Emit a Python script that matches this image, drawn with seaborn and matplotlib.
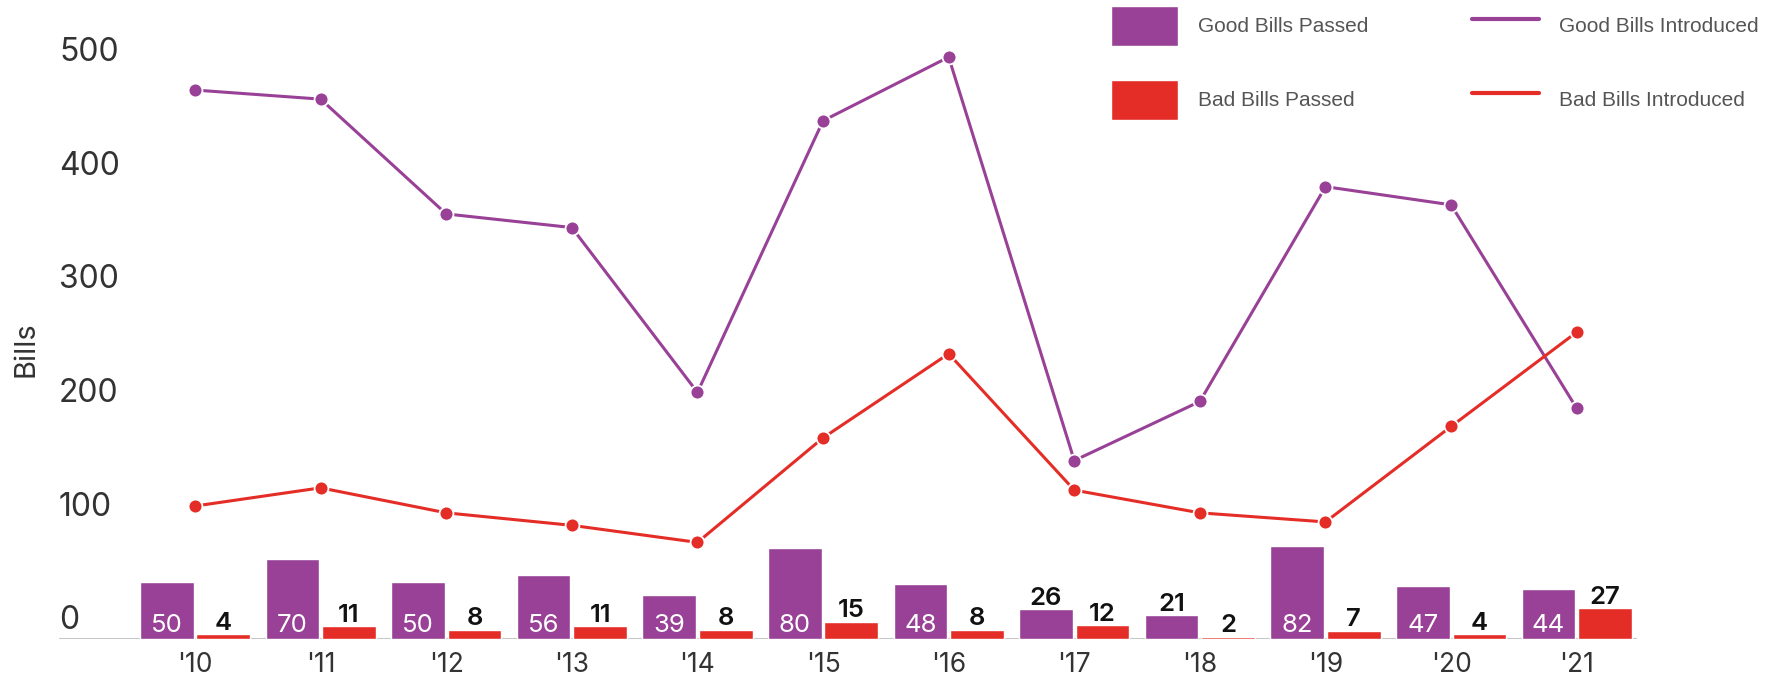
import numpy as np
import pandas as pd
import seaborn as sns
import matplotlib.pyplot as plt
from matplotlib.patches import Patch
from matplotlib.lines import Line2D
from matplotlib.transforms import ScaledTranslation

# valori
years = ["'10", "'11", "'12", "'13", "'14", "'15", "'16", "'17", "'18", "'19", "'20", "'21"]
good_passed = [50, 70, 50, 56, 39, 80, 48, 26, 21, 82, 47, 44]
bad_passed = [4, 11, 8, 11, 8, 15, 8, 12, 2, 7, 4, 27]
good_introduced = [483, 475, 374, 362, 217, 456, 512, 157, 209, 398, 382, 203]
bad_introduced = [117, 133, 111, 100, 85, 177, 251, 131, 111, 103, 187, 270]

PURPLE = "#984196"
RED = "#E52D27"
GREY_TXT = "#333333"

sns.set_theme(style="white")
plt.rcParams["font.family"] = ["Inter", "DejaVu Sans"]

df = pd.DataFrame({
    "year": years * 2,
    "bills": good_passed + bad_passed,
    "kind": ["Good"] * len(years) + ["Bad"] * len(years),
})

W, H = 1783, 682
fig = plt.figure(figsize=(W / 100, H / 100), dpi=100)
ax = fig.add_axes([59 / W, (H - 639) / H, 1578 / W, 591 / H])

sns.barplot(data=df, x="year", y="bills", hue="kind", palette={"Good": PURPLE, "Bad": RED},
            width=0.9, gap=0.05, legend=False, ax=ax, saturation=1)

x = np.arange(len(years))
for vals, col in [(good_introduced, PURPLE), (bad_introduced, RED)]:
    sns.lineplot(x=x, y=vals, color=col, lw=2.2, marker="o", markersize=10,
                 markeredgecolor="white", markeredgewidth=1.3, ax=ax)

# etichette delle barre
good_bars, bad_bars = ax.containers[0], ax.containers[1]
for bar, v in zip(good_bars, good_passed):
    cx = bar.get_x() + bar.get_width() / 2
    if v >= 30:
        ax.text(cx, 6, str(v), ha="center", va="baseline", color="white", fontsize=18.5)
    else:
        ax.text(cx, v + 4, str(v), ha="center", va="baseline", color="#111111",
                fontsize=18.5, fontweight="semibold")
for bar, v in zip(bad_bars, bad_passed):
    cx = bar.get_x() + bar.get_width() / 2
    ax.text(cx, v + 4, str(v), ha="center", va="baseline", color="#111111",
            fontsize=18.5, fontweight="semibold")

ax.axhline(0, color="#c6c6c6", lw=2.2, zorder=0.5)
ax.set_xlim(-1.083, 11.48)
ax.set_ylim(0, 520)
sns.despine(ax=ax, left=True, bottom=True)

ax.set_yticks([0, 100, 200, 300, 400, 500])
ax.tick_params(axis="y", length=0, pad=0, labelsize=23, labelcolor=GREY_TXT)
shift_up = ScaledTranslation(0, 2 / 72, fig.dpi_scale_trans)
for lab in ax.get_yticklabels():
    lab.set_horizontalalignment("left")
    lab.set_verticalalignment("bottom")
    lab.set_transform(lab.get_transform() + shift_up)
ax.tick_params(axis="x", length=0, pad=9, labelsize=19, labelcolor=GREY_TXT)
ax.set_xlabel("")
ax.set_ylabel("Bills", fontsize=21, color=GREY_TXT)
ax.yaxis.set_label_coords(-0.0125, 0.49)

handles = [
    Patch(facecolor=PURPLE, label="Good Bills Passed"),
    Patch(facecolor=RED, label="Bad Bills Passed"),
    Line2D([], [], color=PURPLE, lw=3, label="Good Bills Introduced"),
    Line2D([], [], color=RED, lw=3, label="Bad Bills Introduced"),
]
fig.legend(handles=handles, loc="upper left", bbox_to_anchor=(1111 / W, 1 - 6 / H),
           ncol=2, frameon=False, labelcolor="#555555",
           prop={"family": "Liberation Sans", "size": 15},
           handlelength=3.2, handleheight=2.58, handletextpad=0.96,
           labelspacing=1.63, columnspacing=5.0, borderpad=0, borderaxespad=0)

fig.savefig("out.png", dpi=100)
